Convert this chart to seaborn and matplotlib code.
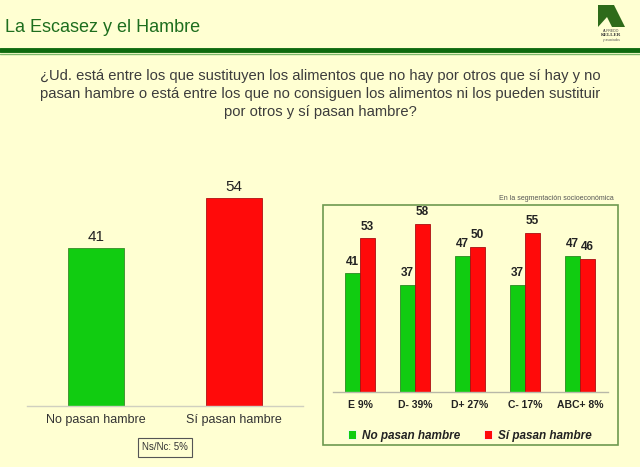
import matplotlib
matplotlib.use("Agg")
import matplotlib.pyplot as plt
import seaborn as sns
import pandas as pd
from matplotlib.patches import Rectangle, Polygon
from matplotlib.lines import Line2D

# ---- data ----
main_categories = ["No pasan hambre", "Sí pasan hambre"]
main_values = [41, 54]

segments = ["E 9%", "D- 39%", "D+ 27%", "C- 17%", "ABC+ 8%"]
no_pasan = [41, 37, 47, 37, 47]
si_pasan = [53, 58, 50, 55, 46]
series_names = ["No pasan hambre", "Sí pasan hambre"]

title = "La Escasez y el Hambre"
question = ("¿Ud. está entre los que sustituyen los alimentos que no hay por otros que sí hay y no\n"
            "pasan hambre o está entre los que no consiguen los alimentos ni los pueden sustituir\n"
            "por otros y sí pasan hambre?")
nsnc = "Ns/Nc: 5%"
seg_note = "En la segmentación socioeconómica"

BG = "#FFFFD2"
GREEN = "#11CC11"
RED = "#FF0A0A"
DKGREEN = "#1E6E1E"

sns.set_theme(style="white")
plt.rcParams["font.family"] = ["Liberation Sans", "DejaVu Sans"]

W, H = 640, 467
fig = plt.figure(figsize=(6.4, 4.67), dpi=100, facecolor=BG)

def fx(px):
    return px / W

def fy(py):
    return 1 - py / H

# ---- header ----
fig.text(fx(5), fy(28), title, fontsize=13, color=DKGREEN, va="center", ha="left")
fig.add_artist(Line2D([0, 1], [fy(50), fy(50)], color="#0E6A0E", lw=3.5, transform=fig.transFigure))
fig.add_artist(Line2D([0, 1], [fy(53.5), fy(53.5)], color="#7DB96B", lw=1, transform=fig.transFigure))

# logo
logo = Polygon([[fx(598), fy(5)], [fx(614), fy(5)], [fx(625), fy(27)], [fx(612), fy(27)],
                [fx(607), fy(17)], [fx(598), fy(27)]], closed=True,
               facecolor="#2E6B1A", edgecolor="none", transform=fig.transFigure)
fig.add_artist(logo)
fig.text(fx(611), fy(31), "ALFREDO", fontsize=2.5, color="#444444", ha="center", va="center")
fig.text(fx(611), fy(35.5), "KELLER", fontsize=3.5, color="#333333", ha="center", va="center",
         fontweight="bold", family=["Liberation Serif", "DejaVu Serif"])
fig.text(fx(611), fy(40), "y asociados", fontsize=2.3, color="#555555", ha="center", va="center")

# question
fig.text(fx(320), fy(94), question, fontsize=10.6, color="#3C3C3C", ha="center", va="center",
         linespacing=1.38)

# ---- left chart ----
ax1 = fig.add_axes([fx(27), fy(406), fx(276), (406 - 180) / H])
ax1.set_facecolor("none")
df1 = pd.DataFrame({"cat": main_categories, "val": main_values})
sns.barplot(data=df1, x="cat", y="val", hue="cat", palette=[GREEN, RED], legend=False,
            width=0.4, ax=ax1, edgecolor="#3A8A2A", linewidth=0.6, saturation=1)
ax1.patches[1].set_edgecolor("#B01010")
ax1.set_ylim(0, (406 - 180) / 3.85)
ax1.set_xlim(-0.5, 1.5)
for c in ax1.containers:
    ax1.bar_label(c, fontsize=11, color="#222222", padding=3)
ax1.set_xlabel("")
ax1.set_ylabel("")
ax1.set_yticks([])
ax1.tick_params(axis="x", labelsize=9, colors="#333333", length=0, pad=6)
for s in ["top", "left", "right"]:
    ax1.spines[s].set_visible(False)
ax1.spines["bottom"].set_color("#D0D0C0")
ax1.spines["bottom"].set_linewidth(1)

fig.text(fx(165), fy(447.5), nsnc, fontsize=7, color="#333333", ha="center", va="center",
         bbox=dict(boxstyle="square,pad=0.45", facecolor="none", edgecolor="#555555", linewidth=0.8))

# ---- right panel ----
fig.add_artist(Rectangle((fx(323), fy(445)), fx(618 - 323), (445 - 205) / H, facecolor="none",
                         edgecolor="#6E9A50", linewidth=1.2, transform=fig.transFigure))
fig.text(fx(614), fy(198), seg_note, fontsize=5, color="#555555", ha="right", va="center")

ax2 = fig.add_axes([fx(332.5), fy(392), fx(275), (392 - 212) / H])
ax2.set_facecolor("none")
df2 = pd.DataFrame({
    "seg": segments * 2,
    "serie": [series_names[0]] * len(segments) + [series_names[1]] * len(segments),
    "val": no_pasan + si_pasan,
})
sns.barplot(data=df2, x="seg", y="val", hue="serie", palette=[GREEN, RED], width=0.55,
            ax=ax2, saturation=1, linewidth=0.6)
for p, ec in zip(ax2.containers, ["#2C8A22", "#A81010"]):
    for bar in p:
        bar.set_edgecolor(ec)
ax2.set_ylim(0, (392 - 212) / 2.9)
ax2.set_xlim(-0.5, 4.5)
for c in ax2.containers:
    ax2.bar_label(c, fontsize=8.5, fontweight="bold", color="#222222", padding=4)
ax2.set_xlabel("")
ax2.set_ylabel("")
ax2.set_yticks([])
ax2.tick_params(axis="x", labelsize=7.5, colors="#222222", length=0, pad=6)
for lbl in ax2.get_xticklabels():
    lbl.set_fontweight("bold")
for s in ["top", "left", "right"]:
    ax2.spines[s].set_visible(False)
ax2.spines["bottom"].set_color("#B8B8A8")
ax2.spines["bottom"].set_linewidth(1)

leg = ax2.legend(loc="upper center", bbox_to_anchor=(0.5, -0.15), ncol=2, frameon=False,
                 prop=dict(size=8.5, weight="bold", style="italic"), handlelength=0.7,
                 handleheight=0.7, columnspacing=2.0, handletextpad=0.5)
for t in leg.get_texts():
    t.set_color("#222222")

fig.savefig("out.png", dpi=100, facecolor=BG)
